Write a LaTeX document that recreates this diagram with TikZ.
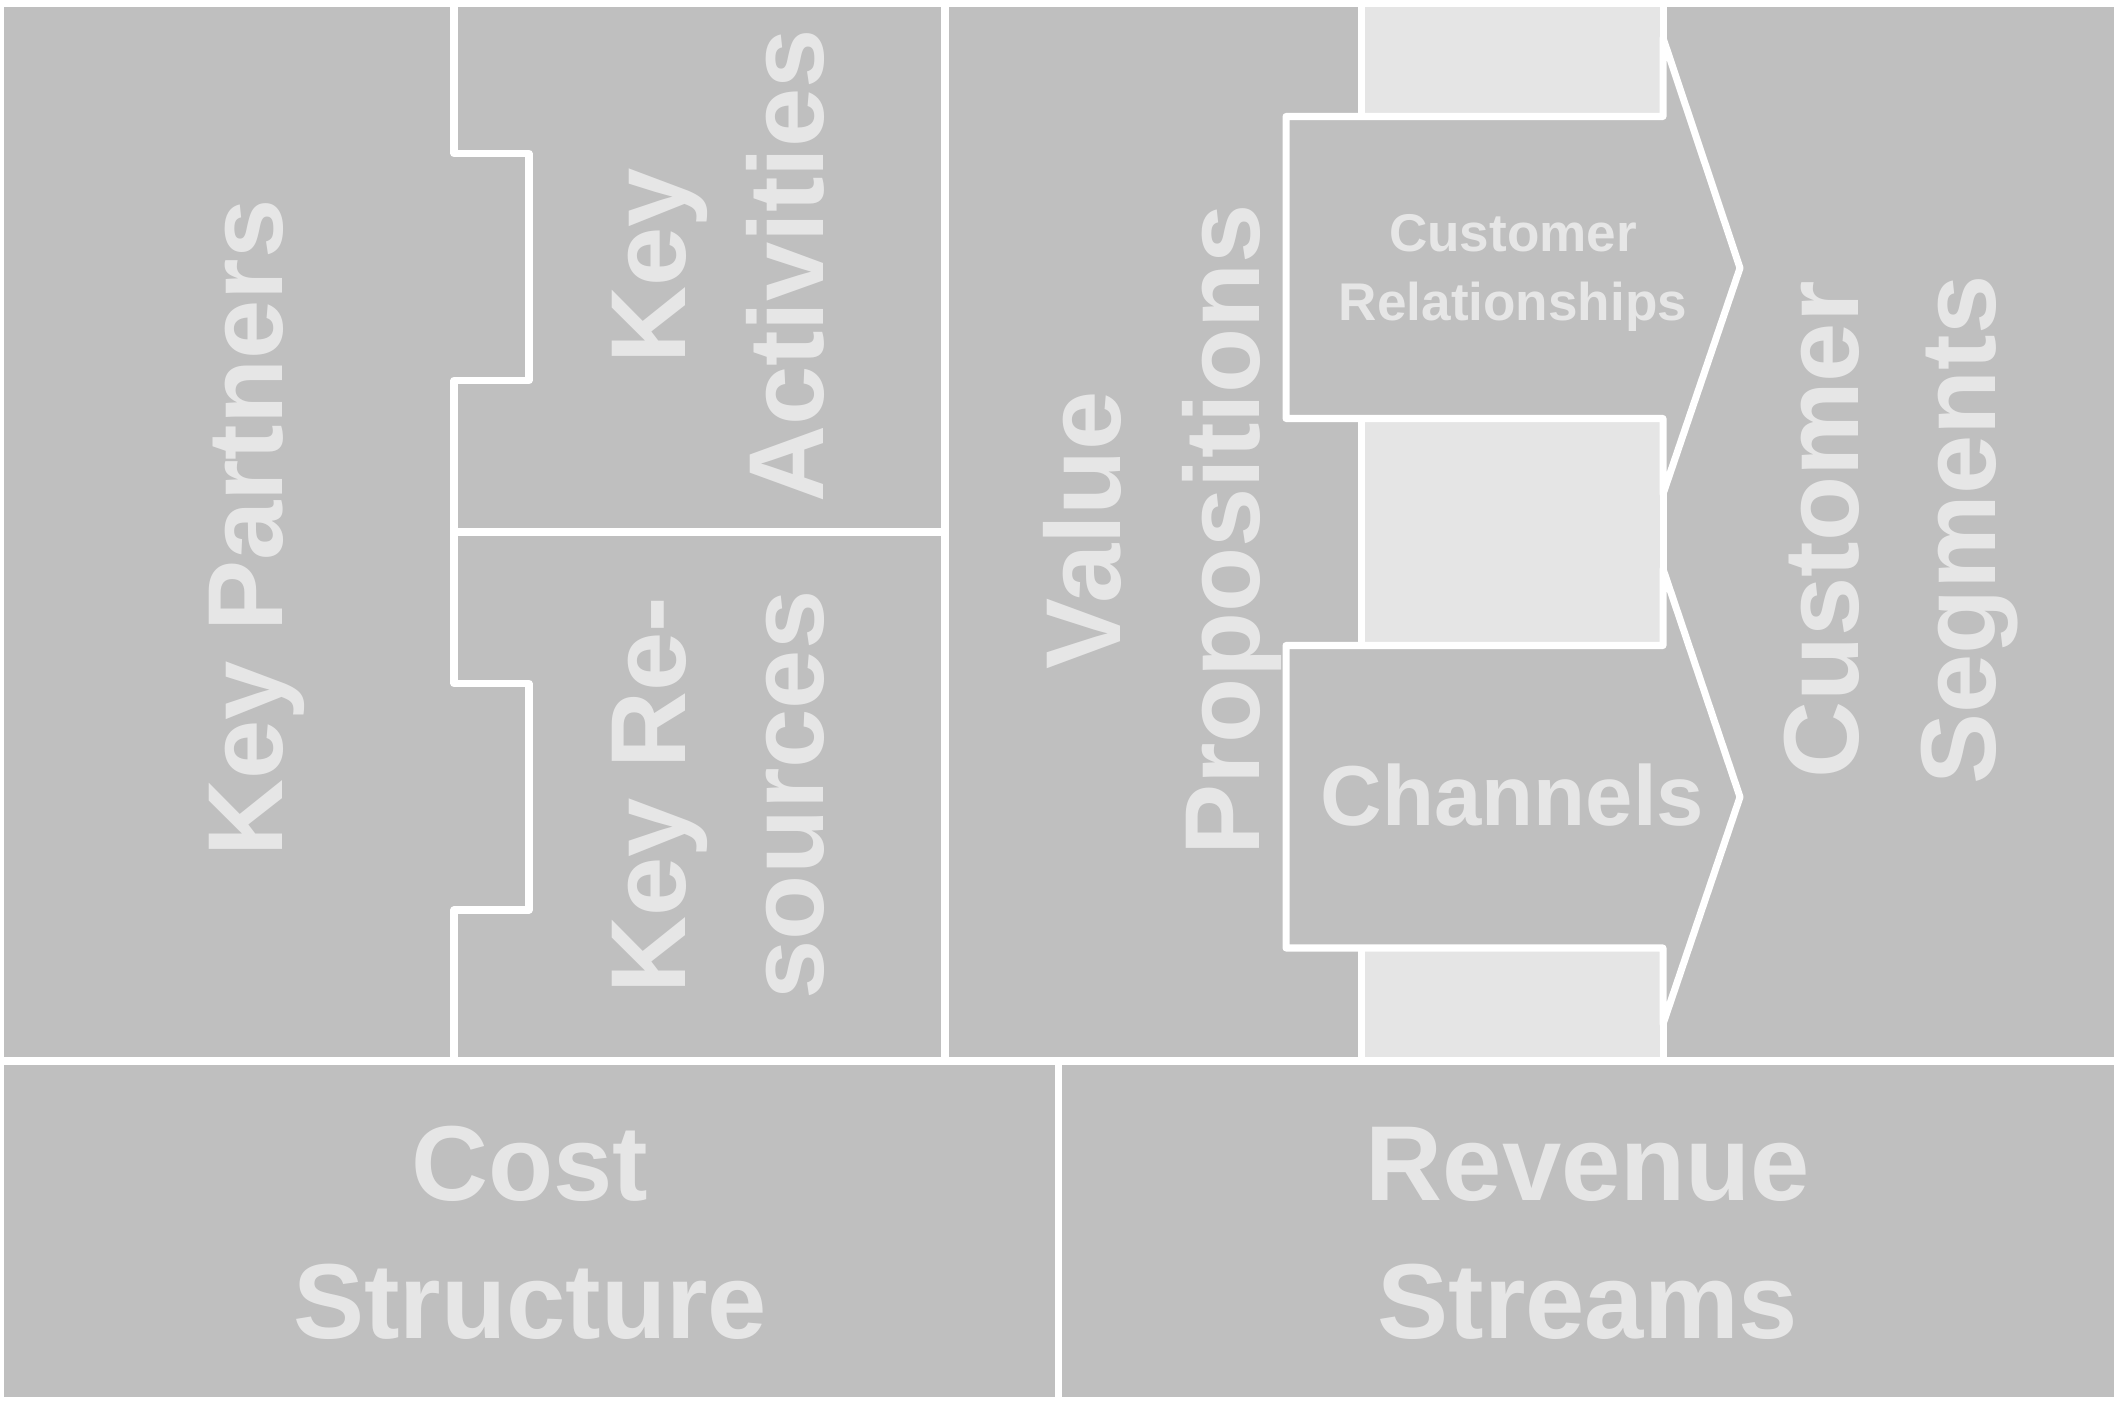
\documentclass[tikz,border=0pt]{standalone}
\usepackage{fontspec}
\setmainfont{Liberation Sans}
\definecolor{boxgray}{RGB}{191,191,191}
\definecolor{striplight}{RGB}{229,229,229}
\definecolor{txtlight}{RGB}{230,230,230}
\begin{document}
\begin{tikzpicture}[x=0.01cm, y=-0.01cm,
  sepline/.style={draw=white, line width=2pt, line join=round, line cap=round},
  arrowshape/.style={fill=boxgray, draw=white, line width=2pt, line join=round},
  biglabel/.style={inner sep=0pt, text=txtlight, anchor=base, font=\fontsize{30.3}{36}\selectfont\bfseries},
  vlabel/.style={biglabel, rotate=90},
  crlabel/.style={inner sep=0pt, text=txtlight, anchor=base, font=\fontsize{15.1}{18}\selectfont\bfseries},
  chlabel/.style={inner sep=0pt, text=txtlight, anchor=base, font=\fontsize{24.2}{29}\selectfont\bfseries}]
\useasboundingbox (0,0) rectangle (2118,1401);
\fill[white] (0,0) rectangle (2118,1401);
\fill[boxgray] (4,7) rectangle (2114,1397);
\fill[striplight] (1361,7) rectangle (1663,1061);
% separating lines
\draw[sepline] (454,0) -- (454,153.5) -- (529,153.5) -- (529,380.5) -- (454,380.5)
  -- (454,683.5) -- (529,683.5) -- (529,910) -- (454,910) -- (454,1061);
\draw[sepline] (454,532) -- (945,532);
\draw[sepline] (945,0) -- (945,1061);
\draw[sepline] (1361,0) -- (1361,1061);
\draw[sepline] (1663,0) -- (1663,1061);
\draw[sepline] (0,1061) -- (2118,1061);
\draw[sepline] (1058.5,1061) -- (1058.5,1401);
% arrows
\draw[arrowshape] (1286,116.5) -- (1663,116.5) -- (1663,38) -- (1740,268) -- (1663,494)
  -- (1663,418.5) -- (1286,418.5) -- cycle;
\draw[arrowshape] (1286,645.5) -- (1663,645.5) -- (1663,569) -- (1740,797) -- (1663,1024)
  -- (1663,948) -- (1286,948) -- cycle;
% labels
\node[vlabel] (kp) at (282,528) {Key Partners};
\node[vlabel] (ka1) at (685,266) {Key};
\node[vlabel] (ka2) at (823,266) {Activities};
\node[vlabel] (kr1) at (685,795) {Key Re-};
\node[vlabel] (kr2) at (823,795) {sources};
\node[vlabel] (vp1) at (1120,530) {Value};
\node[vlabel] (vp2) at (1259,530) {Propositions};
\node[vlabel] (cs1) at (1858,530) {Customer};
\node[vlabel] (cs2) at (1995,530) {Segments};
\node[crlabel] (cr1) at (1513,251.4) {Customer};
\node[crlabel] (cr2) at (1513,320.3) {Relationships};
\node[chlabel] (ch) at (1512.5,826) {Channels};
\node[biglabel] (c1) at (530,1200) {Cost};
\node[biglabel] (c2) at (530,1338) {Structure};
\node[biglabel] (r1) at (1588,1200) {Revenue};
\node[biglabel] (r2) at (1588,1338) {Streams};
\end{tikzpicture}
\end{document}
